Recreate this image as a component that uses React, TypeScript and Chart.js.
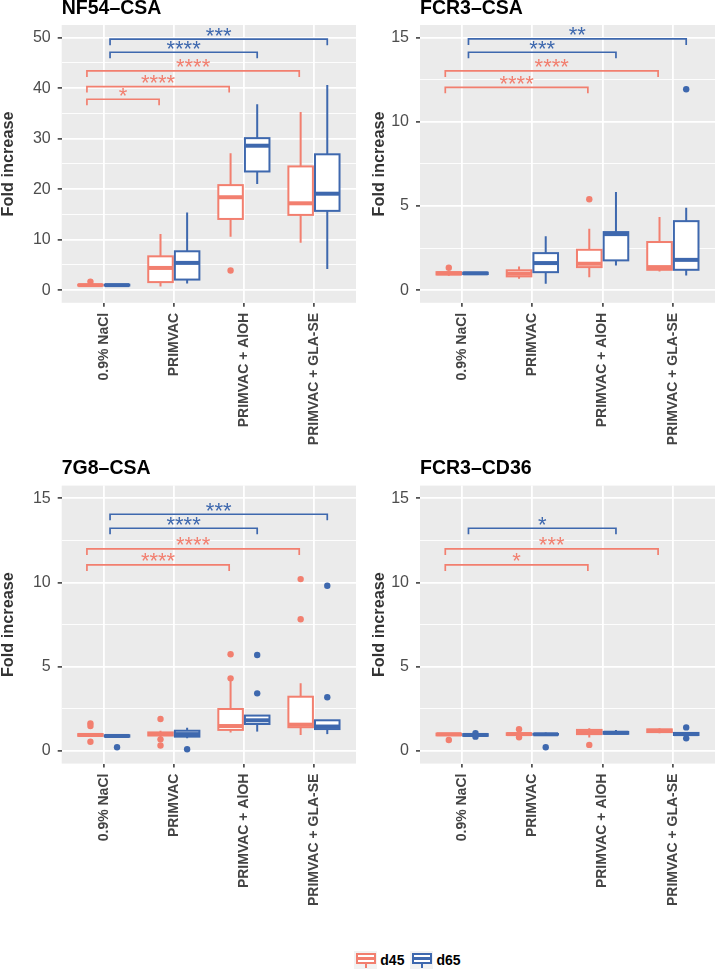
import React, { useEffect, useRef } from 'react';
import { Chart, registerables } from 'chart.js';

Chart.register(...registerables);

// ---------- data ----------
const categories = ['0.9% NaCl', 'PRIMVAC', 'PRIMVAC + AlOH', 'PRIMVAC + GLA-SE'];
const groupNames = ['d45', 'd65'];

// box statistics per category: [lower whisker, Q1, median, Q3, upper whisker]
const nf54D45 = [[0.8, 0.92, 1.0, 1.08, 1.2], [0.75, 1.6, 4.4, 6.7, 11.1], [10.6, 14.1, 18.4, 20.8, 27.1], [9.4, 14.9, 17.2, 24.5, 35.3]];
const nf54D65 = [[0.85, 0.92, 1.0, 1.08, 1.15], [1.3, 2.1, 5.4, 7.7, 15.4], [21.0, 23.5, 28.6, 30.1, 36.8], [4.2, 15.7, 19.1, 26.9, 40.6]];
const nf54D45Out = [[1.7], [], [3.9], []];
const nf54D65Out = [[], [], [], []];

const fcr3CsaD45 = [[0.85, 0.93, 1.0, 1.07, 1.12], [0.68, 0.82, 0.98, 1.18, 1.41], [0.77, 1.37, 1.57, 2.4, 3.65], [1.11, 1.21, 1.37, 2.86, 4.35]];
const fcr3CsaD65 = [[0.95, 0.96, 1.0, 1.04, 1.05], [0.38, 1.07, 1.61, 2.2, 3.2], [1.47, 1.77, 3.33, 3.45, 5.83], [0.87, 1.21, 1.8, 4.1, 4.9]];
const fcr3CsaD45Out = [[1.33], [], [5.4], []];
const fcr3CsaD65Out = [[], [], [], [11.93]];

const g7CsaD45 = [[0.85, 0.9, 0.95, 1.0, 1.05], [0.8, 0.92, 1.0, 1.1, 1.2], [1.09, 1.25, 1.48, 2.49, 4.25], [0.95, 1.41, 1.56, 3.22, 4.02]];
const g7CsaD65 = [[0.83, 0.85, 0.89, 0.93, 0.95], [0.75, 0.85, 1.0, 1.2, 1.38], [1.15, 1.6, 1.82, 2.1, 2.1], [1.0, 1.3, 1.45, 1.82, 1.82]];
const g7CsaD45Out = [[1.64, 1.48, 0.55], [1.9, 0.69, 0.32], [5.74, 4.31], [10.2, 7.82]];
const g7CsaD65Out = [[0.22], [0.1], [5.7, 3.42], [3.19, 9.81]];

const fcr3Cd36D45 = [[0.9, 0.93, 0.99, 1.03, 1.05], [0.9, 0.95, 1.0, 1.05, 1.1], [0.8, 1.0, 1.11, 1.25, 1.35], [1.05, 1.12, 1.2, 1.28, 1.35]];
const fcr3Cd36D65 = [[0.88, 0.9, 0.95, 1.0, 1.02], [0.95, 0.97, 0.99, 1.01, 1.1], [1.0, 1.02, 1.08, 1.13, 1.25], [0.9, 0.95, 1.0, 1.07, 1.1]];
const fcr3Cd36D45Out = [[0.65], [1.29, 0.81], [0.36], []];
const fcr3Cd36D65Out = [[1.05, 0.85], [0.22], [], [1.4, 0.75]];

// significance brackets: group, from category index, to category index, height, label
const nf54Sig = [
  { group: 'd65', from: 0, to: 3, y: 49.7, label: '***' },
  { group: 'd65', from: 0, to: 2, y: 47.1, label: '****' },
  { group: 'd45', from: 0, to: 3, y: 43.4, label: '****' },
  { group: 'd45', from: 0, to: 2, y: 40.3, label: '****' },
  { group: 'd45', from: 0, to: 1, y: 37.8, label: '*' },
];
const fcr3CsaSig = [
  { group: 'd65', from: 0, to: 3, y: 14.92, label: '**' },
  { group: 'd65', from: 0, to: 2, y: 14.13, label: '***' },
  { group: 'd45', from: 0, to: 3, y: 13.02, label: '****' },
  { group: 'd45', from: 0, to: 2, y: 12.05, label: '****' },
];
const g7CsaSig = [
  { group: 'd65', from: 0, to: 3, y: 14.05, label: '***' },
  { group: 'd65', from: 0, to: 2, y: 13.22, label: '****' },
  { group: 'd45', from: 0, to: 3, y: 11.99, label: '****' },
  { group: 'd45', from: 0, to: 2, y: 11.04, label: '****' },
];
const fcr3Cd36Sig = [
  { group: 'd65', from: 0, to: 2, y: 13.22, label: '*' },
  { group: 'd45', from: 0, to: 3, y: 11.99, label: '***' },
  { group: 'd45', from: 0, to: 2, y: 11.04, label: '*' },
];

const nf54YTicks = [0, 10, 20, 30, 40, 50];
const smallYTicks = [0, 5, 10, 15];

// ---------- style ----------
const FONT = '"Liberation Sans", Arial, sans-serif';
const COLORS: Record<string, string> = { d45: '#F27F6F', d65: '#3E68AE' };
const DODGE: Record<string, number> = { d45: -0.19, d65: 0.19 };
const BOX_W = 0.35;
const BRACKET_END: Record<string, number[]> = { d45: [-0.24, -0.21], d65: [0.09, 0.19] };
const TIP = 6;
const LABEL_DY = 3.5;

const panels = [
  { title: 'NF54–CSA', d45: nf54D45, d65: nf54D65, d45Out: nf54D45Out, d65Out: nf54D65Out, sig: nf54Sig, yTicks: nf54YTicks,
    box: { x: 0, y: 0, w: 360, h: 460 }, yWidth: 61.7, titleBlock: 25, xHeight: 157.2, yTitlePad: 0 },
  { title: 'FCR3–CSA', d45: fcr3CsaD45, d65: fcr3CsaD65, d45Out: fcr3CsaD45Out, d65Out: fcr3CsaD65Out, sig: fcr3CsaSig, yTicks: smallYTicks,
    box: { x: 360, y: 0, w: 359, h: 460 }, yWidth: 60, titleBlock: 25, xHeight: 157.2, yTitlePad: 11.4 },
  { title: '7G8–CSA', d45: g7CsaD45, d65: g7CsaD65, d45Out: g7CsaD45Out, d65Out: g7CsaD65Out, sig: g7CsaSig, yTicks: smallYTicks,
    box: { x: 0, y: 460, w: 360, h: 460 }, yWidth: 61.7, titleBlock: 25.6, xHeight: 156.4, yTitlePad: 0 },
  { title: 'FCR3–CD36', d45: fcr3Cd36D45, d65: fcr3Cd36D65, d45Out: fcr3Cd36D45Out, d65Out: fcr3Cd36D65Out, sig: fcr3Cd36Sig, yTicks: smallYTicks,
    box: { x: 360, y: 460, w: 359, h: 460 }, yWidth: 60, titleBlock: 25.6, xHeight: 156.4, yTitlePad: 11.4 },
];

function makePlugin(p: any) {
  return {
    id: 'ggbox',
    beforeDraw(chart: any) {
      const { ctx, chartArea: a } = chart;
      ctx.save();
      ctx.fillStyle = '#EBEBEB';
      ctx.fillRect(a.left, a.top, a.right - a.left, a.bottom - a.top);
      ctx.restore();
    },
    beforeDatasetsDraw(chart: any) {
      const { ctx } = chart;
      const x = chart.scales.x;
      const y = chart.scales.y;
      const halfW = Math.abs(x.getPixelForValue(1 + BOX_W / 2) - x.getPixelForValue(1));
      groupNames.forEach((g) => {
        const stats: number[][] = p[g];
        stats.forEach((s, i) => {
          const [lo, q1, med, q3, hi] = s.map((v) => y.getPixelForValue(v));
          const xc = x.getPixelForValue(i + 1 + DODGE[g]);
          ctx.save();
          ctx.strokeStyle = COLORS[g];
          ctx.lineWidth = 2;
          ctx.lineCap = 'butt';
          ctx.beginPath();
          ctx.moveTo(xc, hi);
          ctx.lineTo(xc, q3);
          ctx.moveTo(xc, q1);
          ctx.lineTo(xc, lo);
          ctx.stroke();
          ctx.fillStyle = '#FFFFFF';
          ctx.fillRect(xc - halfW, q3, 2 * halfW, q1 - q3);
          ctx.strokeRect(xc - halfW, q3, 2 * halfW, q1 - q3);
          ctx.lineWidth = 4;
          ctx.beginPath();
          ctx.moveTo(xc - halfW, med);
          ctx.lineTo(xc + halfW, med);
          ctx.stroke();
          ctx.restore();
        });
      });
    },
    afterDatasetsDraw(chart: any) {
      const { ctx } = chart;
      const x = chart.scales.x;
      const y = chart.scales.y;
      p.sig.forEach((b: any) => {
        const x1 = x.getPixelForValue(b.from + 1 + BRACKET_END[b.group][0]);
        const x2 = x.getPixelForValue(b.to + 1 + BRACKET_END[b.group][1]);
        const yy = y.getPixelForValue(b.y);
        ctx.save();
        ctx.strokeStyle = COLORS[b.group];
        ctx.lineWidth = 1.7;
        ctx.beginPath();
        ctx.moveTo(x1, yy + TIP);
        ctx.lineTo(x1, yy);
        ctx.lineTo(x2, yy);
        ctx.lineTo(x2, yy + TIP);
        ctx.stroke();
        ctx.fillStyle = COLORS[b.group];
        ctx.font = `22px ${FONT}`;
        ctx.textAlign = 'center';
        ctx.textBaseline = 'alphabetic';
        ctx.fillText(b.label, (x1 + x2) / 2, yy + LABEL_DY);
        ctx.restore();
      });
    },
  };
}

function buildConfig(p: any) {
  const majors: number[] = p.yTicks;
  const step = (majors[1] - majors[0]) / 2;
  const top = majors[majors.length - 1];
  const yAll: number[] = [];
  for (let k = 0; k * step <= top + 1e-9; k++) yAll.push(+(k * step).toFixed(4));
  const isMajor = (v: number) => majors.some((t) => Math.abs(t - v) < 1e-6);
  const pad = (top - 0) * 0.05;

  const datasets = groupNames.map((g) => ({
    type: 'scatter',
    label: g,
    data: (p[g + 'Out'] as number[][]).flatMap((vals, i) => vals.map((v) => ({ x: i + 1 + DODGE[g], y: v }))),
    pointRadius: 3.2,
    pointBackgroundColor: COLORS[g],
    pointBorderWidth: 0,
    borderColor: COLORS[g],
    showLine: false,
  }));

  return {
    type: 'scatter',
    data: { datasets },
    options: {
      responsive: false,
      animation: false,
      events: [],
      layout: { padding: 0 },
      plugins: {
        legend: { display: false },
        tooltip: { enabled: false },
        title: {
          display: true,
          text: p.title,
          align: 'start',
          fullSize: false,
          color: '#000000',
          font: { family: FONT, size: 19.5, weight: 'bold', lineHeight: 0.85 },
          padding: { top: 0, bottom: p.titleBlock - 19.5 * 0.85 },
        },
      },
      scales: {
        x: {
          type: 'linear',
          min: 0.4,
          max: 4.6,
          afterBuildTicks: (s: any) => {
            s.ticks = categories.map((_, i) => ({ value: i + 1 }));
          },
          afterFit: (s: any) => {
            s.height = p.xHeight;
          },
          ticks: {
            autoSkip: false,
            minRotation: 90,
            maxRotation: 90,
            padding: 6,
            color: '#444444',
            font: { family: FONT, size: 14, weight: 'bold' },
            callback: (v: any) => categories[Math.round(Number(v)) - 1] ?? '',
          },
          grid: { color: '#FFFFFF', lineWidth: 1.8, tickColor: '#333333', tickLength: 4, tickWidth: 1.5 },
          border: { display: false },
        },
        y: {
          type: 'linear',
          min: -pad,
          max: top + pad,
          afterBuildTicks: (s: any) => {
            s.ticks = yAll.map((v) => ({ value: v }));
          },
          afterFit: (s: any) => {
            s.width = p.yWidth;
          },
          ticks: {
            padding: 7,
            color: '#4D4D4D',
            font: { family: FONT, size: 16 },
            callback: (v: any) => (isMajor(Number(v)) ? String(v) : ''),
          },
          grid: {
            color: '#FFFFFF',
            lineWidth: (c: any) => (c.tick && isMajor(c.tick.value) ? 1.8 : 0.9),
            tickColor: (c: any) => (c.tick && isMajor(c.tick.value) ? '#333333' : 'rgba(0,0,0,0)'),
            tickLength: 4,
            tickWidth: 1.5,
          },
          border: { display: false },
          title: {
            display: true,
            text: 'Fold increase',
            color: '#333333',
            font: { family: FONT, size: 16.3, weight: 'bold', lineHeight: 1 },
            padding: { top: p.yTitlePad, bottom: 0 },
          },
        },
      },
    },
    plugins: [makePlugin(p)],
  };
}

function Panel({ p }: { p: any }) {
  const ref = useRef<HTMLCanvasElement>(null);
  useEffect(() => {
    const chart = new Chart(ref.current as HTMLCanvasElement, buildConfig(p) as any);
    return () => chart.destroy();
  }, []);
  return (
    <canvas
      ref={ref}
      width={p.box.w}
      height={p.box.h}
      style={{ position: 'absolute', left: p.box.x, top: p.box.y, width: p.box.w, height: p.box.h }}
    />
  );
}

function LegendKey({ color }: { color: string }) {
  return (
    <div style={{ position: 'relative', width: 23, height: 18.5, background: '#F2F2F2' }}>
      <div style={{ position: 'absolute', left: 1.7, top: 2, width: 16, height: 7.5, border: `2px solid ${color}`, background: '#FFFFFF' }} />
      <div style={{ position: 'absolute', left: 1.7, top: 6, width: 20, height: 3.5, background: color }} />
      <div style={{ position: 'absolute', left: 10.7, top: 13.3, width: 2, height: 4.5, background: color }} />
    </div>
  );
}

export default function App() {
  return (
    <div style={{ position: 'absolute', left: 0, top: 0, width: 719, height: 972, background: '#FFFFFF', overflow: 'hidden' }}>
      {panels.map((p) => (
        <Panel key={p.title} p={p} />
      ))}
      <div style={{ position: 'absolute', left: 354.3, top: 950.7, display: 'flex', alignItems: 'center', fontFamily: FONT, fontWeight: 'bold', fontSize: 14, color: '#000' }}>
        {groupNames.map((g) => (
          <div key={g} style={{ display: 'flex', alignItems: 'center', marginRight: 6 }}>
            <LegendKey color={COLORS[g]} />
            <span style={{ marginLeft: 3 }}>{g}</span>
          </div>
        ))}
      </div>
    </div>
  );
}
